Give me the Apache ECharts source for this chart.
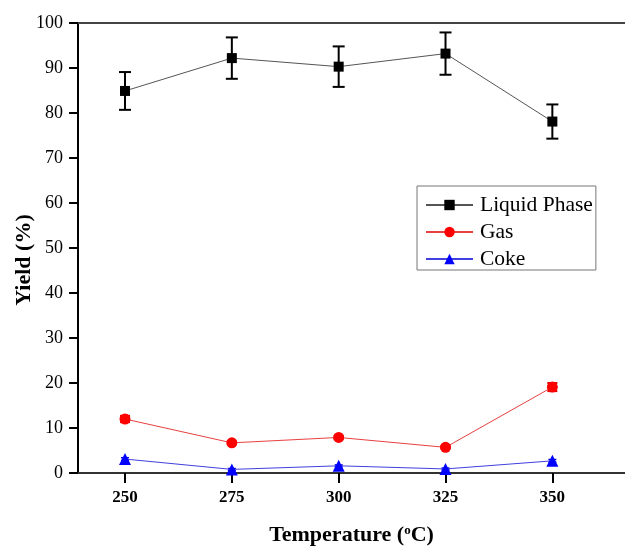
<!DOCTYPE html>
<html>
<head>
<meta charset="utf-8">
<script src="https://cdn.jsdelivr.net/npm/echarts@6/dist/echarts.min.js"></script>
<style>html,body{margin:0;padding:0;background:#fff}#c{width:625px;height:547px}</style>
</head>
<body>
<div id="c"></div>
<script>
const temperatures = [250, 275, 300, 325, 350];
const liquidPhase = [84.9, 92.2, 90.3, 93.2, 78.1];
const liquidErr = [4.2, 4.6, 4.5, 4.7, 3.8];
const gas = [12.0, 6.7, 7.9, 5.7, 19.1];
const gasErr = [0.7, 0.3, 0.3, 0.3, 0.9];
const coke = [3.1, 0.8, 1.6, 0.9, 2.7];
const cokeErr = [0.3, 0.2, 0.2, 0.2, 0.3];
const yTicks = [0, 10, 20, 30, 40, 50, 60, 70, 80, 90, 100];

const serif = '"Liberation Serif", "DejaVu Serif", serif';

function pts(vals) { return temperatures.map((t, i) => [t, vals[i]]); }
function errs(vals, e) { return temperatures.map((t, i) => [t, vals[i] - e[i], vals[i] + e[i]]); }

function errSeries(name, vals, e, color, width, cap) {
  return {
    name: name + ' err',
    type: 'custom',
    data: errs(vals, e),
    z: 3,
    silent: true,
    renderItem: function (params, api) {
      const x = api.value(0);
      const lo = api.coord([x, api.value(1)]);
      const hi = api.coord([x, api.value(2)]);
      const st = { stroke: color, lineWidth: width };
      return {
        type: 'group',
        children: [
          { type: 'line', shape: { x1: lo[0], y1: lo[1], x2: hi[0], y2: hi[1] }, style: st },
          { type: 'line', shape: { x1: lo[0] - cap, y1: lo[1], x2: lo[0] + cap, y2: lo[1] }, style: st },
          { type: 'line', shape: { x1: hi[0] - cap, y1: hi[1], x2: hi[0] + cap, y2: hi[1] }, style: st }
        ]
      };
    }
  };
}

const chart = echarts.init(document.getElementById('c'));
chart.setOption({
  animation: false,
  backgroundColor: '#fff',
  grid: { left: 78, right: 0, top: 23, bottom: 74, containLabel: false, outerBoundsMode: 'none' },
  legend: {
    data: ['Liquid Phase', 'Gas', 'Coke'],
    orient: 'vertical',
    left: 417, top: 186,
    backgroundColor: '#fff',
    borderColor: '#777', borderWidth: 1,
    padding: [8, 3, 0, 8],
    itemWidth: 47, itemHeight: 13, itemGap: 5,
    textStyle: { fontFamily: serif, fontSize: 21.5, color: '#000', lineHeight: 20, padding: [0, 0, 0, 2] }
  },
  xAxis: [{
    type: 'value', min: 239, max: 367,
    name: '{b|Temperature (}{s|o}{b|C)}',
    nameLocation: 'middle', nameGap: 51, nameMoveOverlap: false,
    nameTextStyle: {
      rich: {
        b: { fontFamily: serif, fontSize: 22, fontWeight: 'bold', color: '#000' },
        s: { fontFamily: serif, fontSize: 13, fontWeight: 'bold', color: '#000', verticalAlign: 'top', padding: [0, 0, 10, 0] }
      }
    },
    axisLine: { lineStyle: { color: '#333', width: 2 } },
    axisTick: { show: true, inside: false, length: 10, customValues: temperatures, lineStyle: { color: '#000', width: 2 } },
    axisLabel: { customValues: temperatures, fontFamily: serif, fontSize: 17, fontWeight: 'bold', color: '#000', margin: 16 },
    splitLine: { show: false }
  }, {
    type: 'value', position: 'top', min: 239, max: 367,
    axisLine: { show: true, lineStyle: { color: '#444', width: 2 } },
    axisTick: { show: false }, axisLabel: { show: false }, splitLine: { show: false }
  }],
  yAxis: {
    type: 'value', min: 0, max: 100, interval: 10,
    name: 'Yield (%)', nameLocation: 'middle', nameGap: 43, nameMoveOverlap: false,
    nameTextStyle: { fontFamily: serif, fontSize: 22, fontWeight: 'bold', color: '#000', padding: [0, 24, 0, 0] },
    axisLine: { show: true, lineStyle: { color: '#000', width: 2 } },
    axisTick: { show: true, inside: false, length: 9, lineStyle: { color: '#000', width: 2 } },
    axisLabel: { fontFamily: serif, fontSize: 18, color: '#000', margin: 15 },
    splitLine: { show: false }
  },
  series: [
    errSeries('Liquid Phase', liquidPhase, liquidErr, '#000', 2, 6),
    errSeries('Gas', gas, gasErr, '#e00000', 2, 5),
    errSeries('Coke', coke, cokeErr, '#0000e0', 1.5, 4),
    {
      name: 'Liquid Phase', type: 'line', data: pts(liquidPhase), z: 4,
      symbol: 'rect', symbolSize: 10,
      lineStyle: { color: '#555', width: 1 },
      itemStyle: { color: '#000' }
    },
    {
      name: 'Gas', type: 'line', data: pts(gas), z: 4,
      symbol: 'circle', symbolSize: 11,
      lineStyle: { color: '#e84040', width: 1 },
      itemStyle: { color: '#ff0000' }
    },
    {
      name: 'Coke', type: 'line', data: pts(coke), z: 4,
      symbol: 'triangle', symbolSize: 12,
      lineStyle: { color: '#4040e0', width: 1 },
      itemStyle: { color: '#0000ff' }
    }
  ]
});
</script>
</body>
</html>
